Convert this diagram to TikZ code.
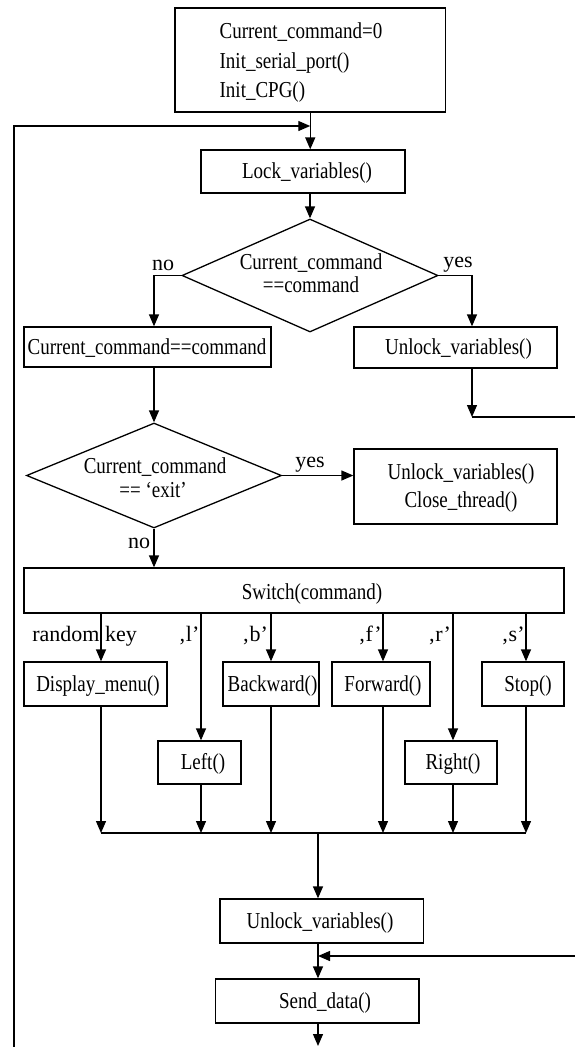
\documentclass[tikz,border=0pt]{standalone}
\usepackage{fontspec}
\setmainfont{Liberation Serif}
\usetikzlibrary{arrows.meta,shapes.geometric}
% box texts are set slightly taller than wide
\newcommand{\bt}[1]{\scalebox{1}[1.2]{#1}}

\begin{document}
\begin{tikzpicture}[x=1pt,y=-1pt,
  line width=1.3pt,
  box/.style={draw, rectangle, inner sep=0pt},
  dec/.style={draw, diamond, inner sep=0pt},
  txt/.style={anchor=base, inner sep=0pt, font=\fontsize{19}{22}\selectfont},
  lbl/.style={anchor=base, inner sep=0pt, font=\fontsize{22}{26}\selectfont},
  arr/.style={-{Triangle[length=12pt,width=10pt]}}
]
\useasboundingbox (0,0) rectangle (575,1047);

% ---------- shapes ----------
\node[box, minimum width=270.5pt, minimum height=104pt] (init) at (310.25,60) {};
\node[box, minimum width=204pt, minimum height=43pt] (lock) at (303,171.5) {};
\node[dec, minimum width=256pt, minimum height=113pt] (d1) at (310,275.5) {};
\node[box, minimum width=247pt, minimum height=40pt] (cc) at (147.5,347) {};
\node[box, minimum width=203pt, minimum height=41pt] (u1) at (455.5,347.5) {};
\node[dec, minimum width=255pt, minimum height=105pt] (d2) at (154,475.5) {};
\node[box, minimum width=203pt, minimum height=75pt] (uc) at (455.5,486.5) {};
\node[box, minimum width=540pt, minimum height=45pt] (sw) at (294,590.5) {};
\node[box, minimum width=143pt, minimum height=44pt] (disp) at (95.5,684) {};
\node[box, minimum width=96pt, minimum height=44pt] (back) at (271,684) {};
\node[box, minimum width=98pt, minimum height=44pt] (fwd) at (381,684) {};
\node[box, minimum width=82pt, minimum height=44pt] (stop) at (523,684) {};
\node[box, minimum width=83pt, minimum height=43pt] (left) at (199.5,762.5) {};
\node[box, minimum width=92pt, minimum height=43pt] (right) at (451,762.5) {};
\node[box, minimum width=203.5pt, minimum height=44pt] (u2) at (321.75,921) {};
\node[box, minimum width=203.4pt, minimum height=44pt] (send) at (317.3,1001) {};

% ---------- texts ----------
\node[txt, anchor=base west] (init-a) at (219,38) {\bt{Current\_command=0}};
\node[txt, anchor=base west] (init-b) at (219,68) {\bt{Init\_serial\_port()}};
\node[txt, anchor=base west] (init-c) at (219,97) {\bt{Init\_CPG()}};
\node[txt] (lock-t) at (307,178.5) {\bt{Lock\_variables()}};
\node[txt] (d1-a) at (311,269) {\bt{Current\_command}};
\node[txt] (d1-b) at (311,292) {\bt{==command}};
\node[txt] (cc-t) at (147,354.5) {\bt{Current\_command==command}};
\node[txt] (u1-t) at (458.5,354.5) {\bt{Unlock\_variables()}};
\node[txt] (d2-a) at (155,473) {\bt{Current\_command}};
\node[txt] (d2-b) at (153,497.5) {\bt{== ‘exit’}};
\node[txt] (uc-a) at (461,479) {\bt{Unlock\_variables()}};
\node[txt] (uc-b) at (461,507) {\bt{Close\_thread()}};
\node[txt] (sw-t) at (312,599) {\bt{Switch(command)}};
\node[txt] (disp-t) at (98,691) {\bt{Display\_menu()}};
\node[txt] (back-t) at (272.5,691) {\bt{Backward()}};
\node[txt] (fwd-t) at (383,691) {\bt{Forward()}};
\node[txt] (stop-t) at (528,691) {\bt{Stop()}};
\node[txt] (left-t) at (203,769.5) {\bt{Left()}};
\node[txt] (right-t) at (453,769.5) {\bt{Right()}};
\node[txt] (u2-t) at (320,928) {\bt{Unlock\_variables()}};
\node[txt] (send-t) at (325,1008) {\bt{Send\_data()}};

% branch labels
\node[lbl] (no1) at (163,270) {no};
\node[lbl] (yes1) at (458,267) {yes};
\node[lbl] (yes2) at (310,467) {yes};
\node[lbl] (no2) at (139,548) {no};
\node[lbl] (k-rand) at (66,641) {random};
\node[lbl] (k-key) at (121,641) {key};
\node[lbl] (k-l) at (189,641) {‚l’};
\node[lbl] (k-b) at (255,641) {‚b’};
\node[lbl] (k-f) at (370,641) {‚f’};
\node[lbl] (k-r) at (439.5,641) {‚r’};
\node[lbl] (k-s) at (513,641) {‚s’};

% ---------- helper points ----------
\coordinate (loopB) at (14,1047);
\coordinate (loopT) at (14,126);
\coordinate (noX) at (154,0);
\coordinate (yesX) at (472,0);
\coordinate (outR) at (575,417);
\coordinate (br1) at (101,613);
\coordinate (br2) at (201,613);
\coordinate (br3) at (271,613);
\coordinate (br4) at (383,613);
\coordinate (br5) at (453,613);
\coordinate (br6) at (526,613);
\coordinate (mg) at (318,833);
\coordinate (inR) at (575,956);
\coordinate (outB) at (318,1046);

% ---------- connectors ----------
\draw[arr] (init.south) -- (init.south |- lock.north);
\draw[arr] (loopB) -- (loopT) -- (init.south |- loopT);
\draw[arr] (d1.north |- lock.south) -- (d1.north);
\draw[arr] (d1.west) -- (d1.west -| noX) -- (noX |- cc.north);
\draw[arr] (d1.east) -- (d1.east -| yesX) -- (yesX |- u1.north);
\draw[arr] (yesX |- u1.south) -- (yesX |- outR);
\draw (yesX |- outR) -- (outR);
\draw[arr] (d2.north |- cc.south) -- (d2.north);
\draw[arr] (d2.east) -- (d2.east -| uc.west);
\draw[arr] (d2.south) -- (d2.south |- sw.north);

% switch branches
\draw[arr] (br1) -- (br1 |- disp.north);
\draw[arr] (br2) -- (br2 |- left.north);
\draw[arr] (br3) -- (br3 |- back.north);
\draw[arr] (br4) -- (br4 |- fwd.north);
\draw[arr] (br5) -- (br5 |- right.north);
\draw[arr] (br6) -- (br6 |- stop.north);

\draw[arr] (br1 |- disp.south) -- (br1 |- mg);
\draw[arr] (br2 |- left.south) -- (br2 |- mg);
\draw[arr] (br3 |- back.south) -- (br3 |- mg);
\draw[arr] (br4 |- fwd.south) -- (br4 |- mg);
\draw[arr] (br5 |- right.south) -- (br5 |- mg);
\draw[arr] (br6 |- stop.south) -- (br6 |- mg);
\draw (br1 |- mg) -- (br6 |- mg);

\draw[arr] (mg) -- (mg |- u2.north);
\draw[arr] (mg |- u2.south) -- (mg |- send.north);
\draw[arr] (inR) -- (mg |- inR);
\draw[arr] (mg |- send.south) -- (outB);
\end{tikzpicture}
\end{document}
